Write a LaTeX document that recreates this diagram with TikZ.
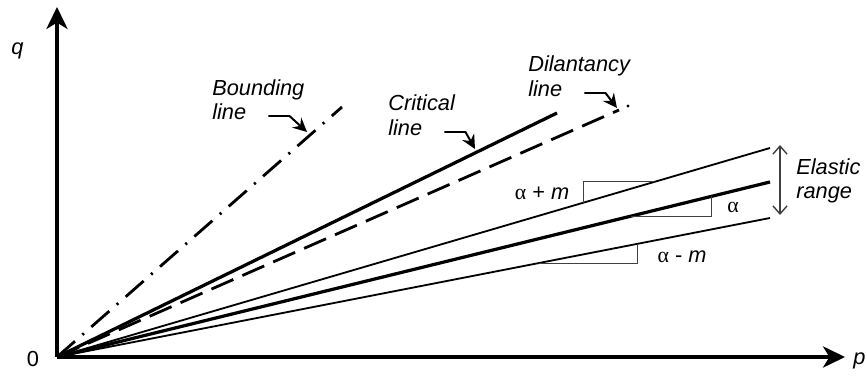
\documentclass[tikz,border=0pt]{standalone}
\usepackage{fontspec}
\setmainfont{Liberation Sans}
\newfontfamily\greekfont{Liberation Serif}
\usetikzlibrary{arrows.meta,positioning,calc}

\begin{document}
\begin{tikzpicture}[
    axis/.style={line width=2.4pt, -{Stealth[length=5.5mm,width=5.3mm,inset=1.6mm]}},
    lbl/.style={font=\fontsize{15.5}{18}\selectfont\itshape, inner sep=0pt, anchor=base west},
    num/.style={font=\fontsize{15.5}{18}\selectfont, inner sep=0pt, anchor=base},
    callout/.style={line width=1.4pt, -{Stealth[length=3.5mm,width=3.4mm,inset=1.2mm]}},
    boldln/.style={line width=2.3pt},
    fineln/.style={line width=1.3pt},
    slope/.style={line width=0.7pt, black!75},
    rangearrow/.style={line width=1pt, black!75, {Straight Barb[length=2mm,width=3.5mm]}-{Straight Barb[length=2mm,width=3.5mm]}}
]
    \useasboundingbox (-1.425,-0.525) rectangle (20.25,8.925);

    % axes
    \coordinate (O)    at (0,0);
    \coordinate (qtop) at (0,8.75);
    \coordinate (pend) at (19.7,0);
    \draw[axis] (O) -- (qtop);
    \draw[axis] (O) -- (pend);
    \node[lbl, anchor=base] (q) at (-0.99,7.55) {q};
    \node[num] (zero) at (-0.6,-0.25) {0};
    \node[lbl] (p) at (19.9,-0.2) {p};

    % lines from the origin
    \coordinate (bnd)  at (7.125,6.25);
    \coordinate (crit) at (12.5,6.1);
    \coordinate (dil)  at (14.05,6.175);
    \coordinate (dot)  at (14.275,6.275);
    \coordinate (eup)  at (17.825,5.225);
    \coordinate (emid) at (17.825,4.375);
    \coordinate (elow) at (17.825,3.475);
    \draw[line width=2pt, dash pattern=on 17pt off 7pt on 1.5pt off 7pt] (O) -- (bnd);
    \draw[boldln] (O) -- (crit);
    \draw[line width=2pt, dash pattern=on 17pt off 7pt] (O) -- (dil);
    \fill (dot) circle (1.1pt);
    \draw[fineln] (O) -- (eup);
    \draw[boldln] (O) -- (emid);
    \draw[fineln] (O) -- (elow);

    % slope triangles
    \draw[slope] (13.15,3.854) -- (13.15,4.375) -- (14.925,4.375);
    \draw[slope] (14.362,3.525) -- (16.35,3.525) -- (16.35,4.013);
    \draw[slope] (12.054,2.35) -- (14.5,2.35) -- (14.5,2.827);
    \node[num] (aplus)  at (12.125,3.925) {{\greekfont α} + \textit{m}};
    \node[num] (alpha)  at (16.9,3.6)     {\greekfont α};
    \node[num] (aminus) at (15.625,2.35)  {{\greekfont α} - \textit{m}};

    % elastic range
    \coordinate (rtop) at (18.075,5.3);
    \coordinate (rbot) at (18.075,3.55);
    \draw[rangearrow] (rtop) -- (rbot);
    \node[lbl] (elastic) at (18.475,4.55) {Elastic};
    \node[lbl] (range)   at (18.475,3.95) {range};

    % callouts
    \node[lbl] (bndtxt)  at (3.875,6.525)  {Bounding};
    \node[lbl] (bndln)   at (3.875,5.925)  {line};
    \node[lbl] (crittxt) at (8.275,6.15)   {Critical};
    \node[lbl] (critln)  at (8.275,5.525)  {line};
    \node[lbl] (diltxt)  at (11.775,7.125) {Dilantancy};
    \node[lbl] (dilln)   at (11.775,6.5)   {line};
    \coordinate (bndtip)  at (6.25,5.625);
    \coordinate (crittip) at (10.45,5.2);
    \coordinate (diltip)  at (14.0,6.225);
    \draw[callout] ([shift={(0.55,0.1)}]bndln.base east) -- ++(0.525,0) -- (bndtip);
    \draw[callout] ([shift={(0.55,0.1)}]critln.base east) -- ++(0.525,0) -- (crittip);
    \draw[callout] ([shift={(0.55,0.1)}]dilln.base east) -- ++(0.525,0) -- (diltip);
\end{tikzpicture}
\end{document}
